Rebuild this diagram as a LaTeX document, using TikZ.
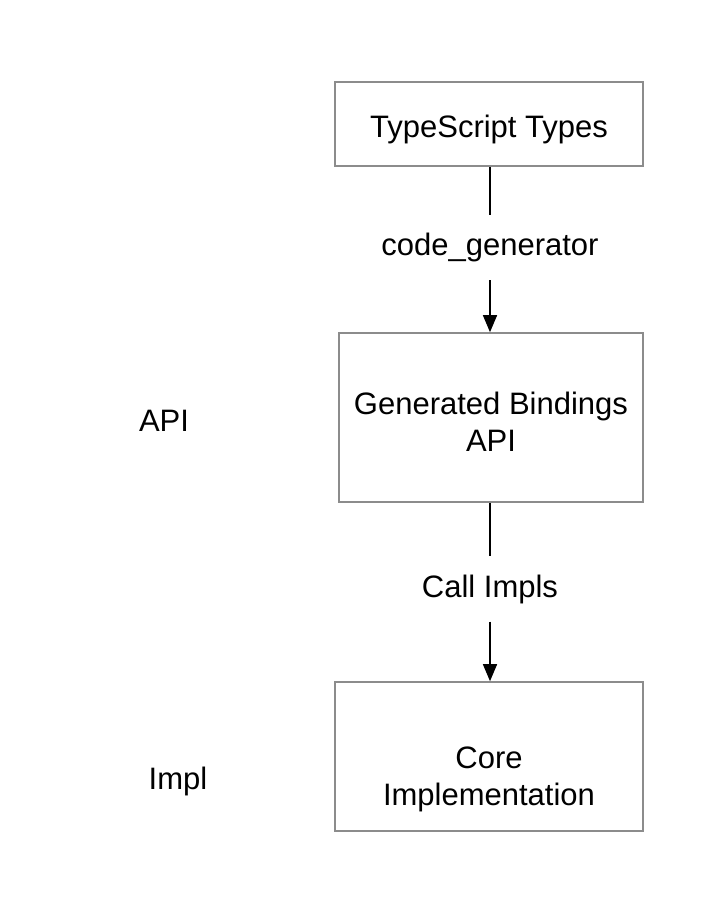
\documentclass[tikz,border=0pt]{standalone}
\usepackage{fontspec}
\setmainfont{Liberation Sans}
\usetikzlibrary{arrows.meta}
\begin{document}
\begin{tikzpicture}[x=1pt,y=-1pt,
  box/.style={draw=black!45, line width=1.6pt, inner sep=0pt, align=center},
  txt/.style={font=\fontsize{31}{37}\selectfont, align=center, inner sep=0pt},
  lbl/.style={txt, minimum height=65pt},
  conn/.style={line width=1.4pt, black},
  arr/.style={conn, -{Triangle[length=17pt,width=14pt]}}]
\useasboundingbox (0,0) rectangle (726,912);
\node[box, minimum width=308pt, minimum height=84pt] (b1) at (489,124) {};
\node[txt] (t1) at (489,129) {TypeScript Types};
\node[box, minimum width=304pt, minimum height=169pt] (b2) at (491,417.5) {};
\node[txt] (t2) at (491,422) {Generated Bindings\\API};
\node[box, minimum width=308pt, minimum height=149pt] (b3) at (489,756.5) {};
\node[txt] (t3) at (489,779) {Core\\Implementation};
\node[lbl] (l1) at (490,247.5) {code\_generator};
\node[lbl] (l2) at (490,589) {Call Impls};
\node[txt] (api) at (164,421) {API};
\node[txt] (impl) at (178,781) {Impl};
\draw[conn] (l1.north |- b1.south) -- (l1.north);
\draw[arr] (l1.south) -- (l1.south |- b2.north);
\draw[conn] (l2.north |- b2.south) -- (l2.north);
\draw[arr] (l2.south) -- (l2.south |- b3.north);
\end{tikzpicture}
\end{document}
